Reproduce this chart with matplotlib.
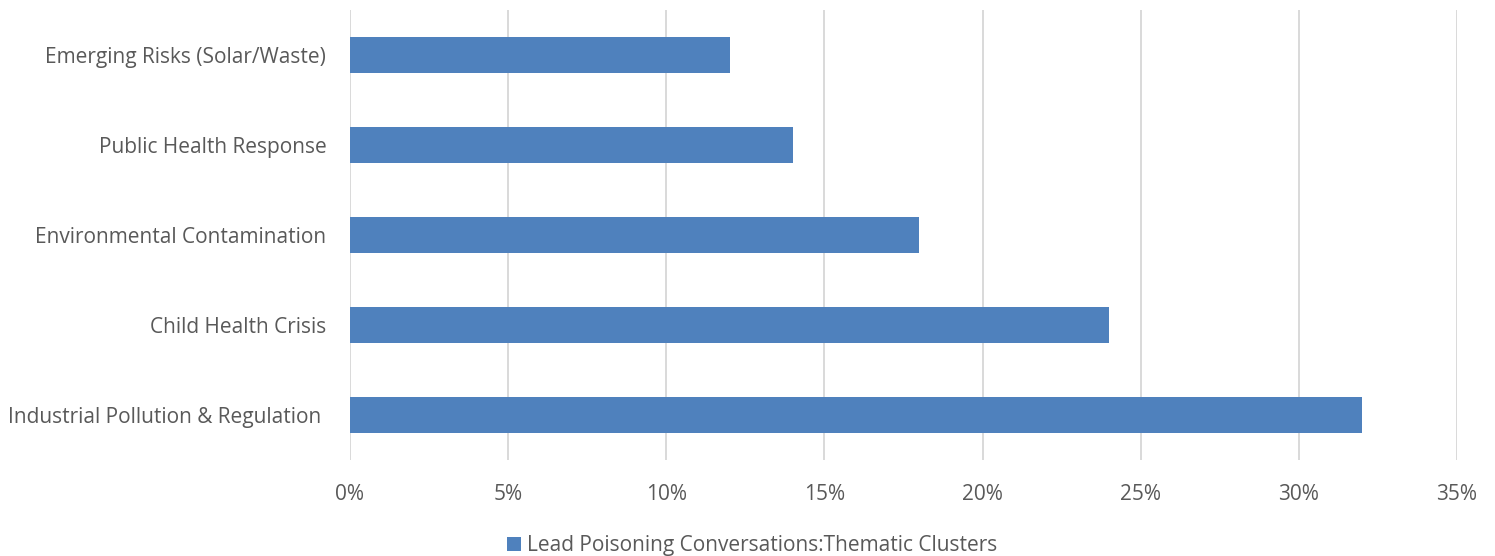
import matplotlib.pyplot as plt
from matplotlib.ticker import PercentFormatter

categories = ['Industrial Pollution & Regulation ', 'Child Health Crisis',
              'Environmental Contamination', 'Public Health Response',
              'Emerging Risks (Solar/Waste)']
values = [32, 24, 18, 14, 12]
series_name = 'Lead Poisoning Conversations:Thematic Clusters'

plt.rcParams['font.family'] = ['Open Sans', 'DejaVu Sans']
text_color = '#595959'

fig = plt.figure(figsize=(14.95, 5.56), dpi=100)
ax = fig.add_axes([0.2341, 0.1727, 0.7405, 0.8093])

ax.barh(range(len(categories)), values, height=0.39, color='#4F81BD',
        label=series_name, zorder=3)

ax.set_xlim(0, 35)
ax.set_ylim(-0.5, len(categories) - 0.5)
ax.set_xticks(range(0, 36, 5))
ax.xaxis.set_major_formatter(PercentFormatter(decimals=0))
ax.set_yticks(range(len(categories)))
ax.set_yticklabels(categories)

ax.grid(axis='x', color='#D9D9D9', linewidth=1.4, zorder=0)
for s in ax.spines.values():
    s.set_visible(False)
ax.tick_params(axis='both', length=0, labelsize=15, labelcolor=text_color)
ax.tick_params(axis='x', pad=17)
ax.tick_params(axis='y', pad=17)

ax.legend(loc='center', bbox_to_anchor=(752 / 1495, 10 / 556),
          bbox_transform=fig.transFigure, frameon=False,
          fontsize=15, labelcolor=text_color, handlelength=0.65, handleheight=0.65,
          handletextpad=0.3)

fig.savefig('out.png', dpi=100)
